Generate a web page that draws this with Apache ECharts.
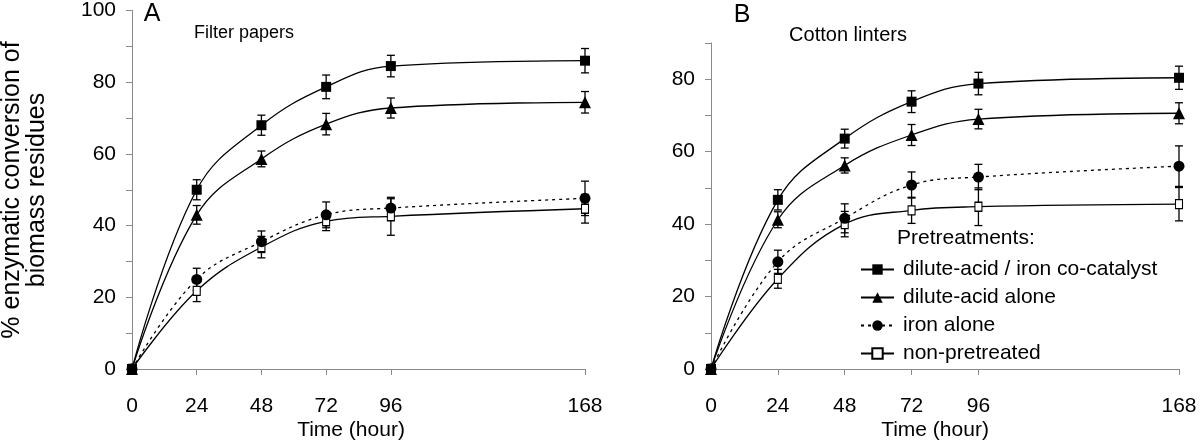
<!DOCTYPE html>
<html><head><meta charset="utf-8">
<script src="https://cdn.jsdelivr.net/npm/echarts@6/dist/echarts.min.js"></script>
<style>html,body{margin:0;padding:0;background:#fff}#c{width:1200px;height:444px}</style>
</head><body><div id="c"></div>
<script>
const hours = [0, 24, 48, 72, 96, 168];
const hourTicks = [0, 24, 48, 72, 96, 168];
const seriesNames = ['dilute-acid / iron co-catalyst', 'dilute-acid alone', 'iron alone', 'non-pretreated'];

// Panel A: Filter papers
const filterCoCat = [0, 50.0, 68.0, 78.7, 84.5, 86.0];
const filterCoCatErr = [0, 2.8, 2.8, 3.3, 3.0, 3.4];
const filterAcid = [0, 43.0, 58.6, 68.3, 72.8, 74.4];
const filterAcidErr = [0, 2.6, 2.2, 3.0, 2.8, 3.0];
const filterIron = [0, 25.0, 35.5, 43.0, 44.9, 47.6];
const filterIronErr = [0, 3.1, 3.0, 3.6, 2.6, 4.8];
const filterNone = [0, 21.8, 34.0, 41.2, 42.6, 44.7];
const filterNoneErr = [0, 3.0, 3.0, 2.6, 5.3, 4.0];

// Panel B: Cotton linters
const cottonCoCat = [0, 46.7, 63.6, 73.8, 78.8, 80.4];
const cottonCoCatErr = [0, 2.8, 2.6, 3.0, 3.1, 3.2];
const cottonAcid = [0, 41.2, 56.2, 64.6, 69.0, 70.6];
const cottonAcidErr = [0, 2.2, 2.1, 2.9, 2.7, 2.9];
const cottonIron = [0, 29.6, 41.6, 50.8, 53.0, 56.0];
const cottonIronErr = [0, 3.2, 4.0, 3.6, 3.5, 5.6];
const cottonNone = [0, 24.9, 40.0, 43.8, 44.8, 45.5];
const cottonNoneErr = [0, 2.6, 3.5, 3.6, 5.2, 4.6];

const FONT = '"Liberation Sans", Arial, Helvetica, sans-serif';
const AXIS_GRAY = '#8a8a8a';

const styles = [
  { symbol: 'rect', size: 10, fill: '#000', dash: 'solid' },
  { symbol: 'triangle', size: 12, fill: '#000', dash: 'solid' },
  { symbol: 'circle', size: 11, fill: '#000', dash: [3, 4] },
  { symbol: 'rect', size: [7, 9], fill: '#fff', dash: 'solid' }
];

const panels = [
  { vals: [filterCoCat, filterAcid, filterIron, filterNone], errs: [filterCoCatErr, filterAcidErr, filterIronErr, filterNoneErr] },
  { vals: [cottonCoCat, cottonAcid, cottonIron, cottonNone], errs: [cottonCoCatErr, cottonAcidErr, cottonIronErr, cottonNoneErr] }
];

function renderErr(params, api) {
  const x = api.value(0), y = api.value(1), e = api.value(2);
  if (!e) return null;
  const top = api.coord([x, y + e]);
  const bot = api.coord([x, y - e]);
  const w = 4;
  const st = { stroke: '#000', lineWidth: 1.3 };
  return {
    type: 'group', children: [
      { type: 'line', shape: { x1: top[0], y1: top[1], x2: bot[0], y2: bot[1] }, style: st },
      { type: 'line', shape: { x1: top[0] - w, y1: top[1], x2: top[0] + w, y2: top[1] }, style: st },
      { type: 'line', shape: { x1: bot[0] - w, y1: bot[1], x2: bot[0] + w, y2: bot[1] }, style: st }
    ]
  };
}

const series = [];
panels.forEach((p, gi) => {
  [3, 2, 1, 0].forEach(k => {
    const s = styles[k];
    series.push({
      type: 'custom', xAxisIndex: gi, yAxisIndex: gi, z: 3,
      renderItem: renderErr, silent: true,
      encode: { x: 0, y: 1 },
      data: hours.map((h, i) => [h, p.vals[k][i], p.errs[k][i]])
    });
    series.push({
      name: seriesNames[k], type: 'line', xAxisIndex: gi, yAxisIndex: gi, z: 4,
      smooth: 0.4,
      symbol: s.symbol, symbolSize: s.size,
      showAllSymbol: true,
      lineStyle: { color: '#000', width: 1.3, type: s.dash },
      itemStyle: { color: s.fill, borderColor: '#000', borderWidth: k === 3 ? 1.2 : 0 },
      data: hours.map((h, i) => [h, p.vals[k][i]])
    });
  });
});

function xAxis(gi) {
  return {
    gridIndex: gi, type: 'value', min: 0, max: 168,
    axisLine: { lineStyle: { color: AXIS_GRAY, width: 1 } },
    axisTick: { show: true, length: 6, customValues: hourTicks, lineStyle: { color: AXIS_GRAY } },
    axisLabel: { customValues: hourTicks, margin: 27, color: '#000', fontSize: 21, fontFamily: FONT },
    splitLine: { show: false }
  };
}
function yAxis(gi, max) {
  return {
    gridIndex: gi, type: 'value', min: 0, max: max, interval: 10,
    axisLine: { show: true, lineStyle: { color: AXIS_GRAY, width: 1 } },
    axisTick: { show: true, length: 6, lineStyle: { color: AXIS_GRAY } },
    axisLabel: { margin: 16, color: '#000', fontSize: 21, fontFamily: FONT,
      formatter: v => (v % 20 === 0 ? String(v) : '') },
    splitLine: { show: false }
  };
}

const chart = echarts.init(document.getElementById('c'), null, { renderer: 'canvas' });
chart.setOption({
  animation: false,
  backgroundColor: '#fff',
  grid: [
    { left: 132, right: 615, top: 9, bottom: 75 },
    { left: 711, right: 21, top: 43, bottom: 75 }
  ],
  xAxis: [xAxis(0), xAxis(1)],
  yAxis: [yAxis(0, 100), yAxis(1, 90)],
  legend: {
    data: seriesNames, orient: 'vertical', left: 855, top: 254,
    itemWidth: 33, itemHeight: 13, itemGap: 7,
    textStyle: { color: '#000', fontSize: 21, fontFamily: FONT, padding: [0, 0, 0, 4] },
    selectedMode: false
  },
  graphic: [
    { type: 'text', x: 152, y: 14, style: { text: 'A', font: '25px ' + FONT, fill: '#000', align: 'center', verticalAlign: 'middle' } },
    { type: 'text', x: 244, y: 33, style: { text: 'Filter papers', font: '18px ' + FONT, fill: '#000', align: 'center', verticalAlign: 'middle' } },
    { type: 'text', x: 742, y: 15, style: { text: 'B', font: '25px ' + FONT, fill: '#000', align: 'center', verticalAlign: 'middle' } },
    { type: 'text', x: 848, y: 35, style: { text: 'Cotton linters', font: '20px ' + FONT, fill: '#000', align: 'center', verticalAlign: 'middle' } },
    { type: 'text', x: 351, y: 430, style: { text: 'Time (hour)', font: '21px ' + FONT, fill: '#000', align: 'center', verticalAlign: 'middle' } },
    { type: 'text', x: 935, y: 430, style: { text: 'Time (hour)', font: '21px ' + FONT, fill: '#000', align: 'center', verticalAlign: 'middle' } },
    { type: 'text', x: 897, y: 238, style: { text: 'Pretreatments:', font: '21px ' + FONT, fill: '#000', align: 'left', verticalAlign: 'middle' } },
    { type: 'text', x: 25, y: 190, rotation: Math.PI / 2,
      style: { text: '% enzymatic conversion of\nbiomass residues', font: '25px ' + FONT, lineHeight: 25, fill: '#000', align: 'center', verticalAlign: 'middle' } }
  ],
  series: series
});
</script></body></html>
